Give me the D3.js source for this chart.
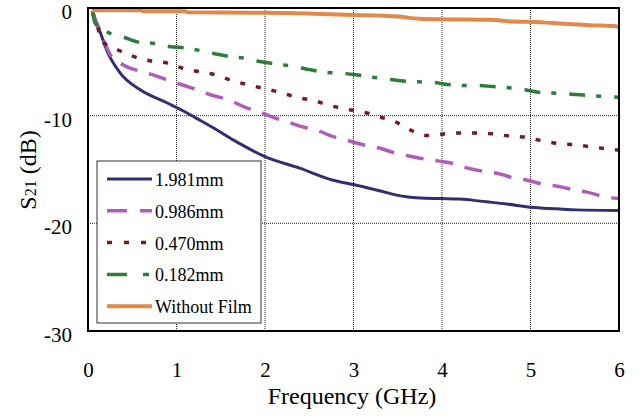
<!DOCTYPE html>
<html>
<head>
<meta charset="utf-8">
<script src="https://cdn.jsdelivr.net/npm/d3@7"></script>
<style>
  body { margin: 0; background: #fff; }
  svg { display: block; }
  svg text { font-family: "Liberation Serif", "DejaVu Serif", serif; fill: #000; }
</style>
</head>
<body>
<svg width="640" height="417"></svg>
<script>
// series: [GHz, dB]
const s1981 = [[0.05,-0.4],[0.14,-2.3],[0.21,-3.9],[0.36,-6.0],[0.59,-7.6],[0.89,-8.8],[1.12,-9.75],[1.27,-10.45],
  [1.41,-11.1],[1.64,-12.25],[2.0,-13.8],[2.4,-14.9],[2.77,-16.0],[3.0,-16.4],[3.33,-17.05],[3.53,-17.45],
  [3.75,-17.65],[4.0,-17.7],[4.2,-17.75],[4.5,-18.0],[4.73,-18.2],[5.0,-18.5],[5.3,-18.65],[5.52,-18.75],[6.0,-18.8]];
const s0986 = [[0.05,-0.4],[0.14,-2.2],[0.25,-4.3],[0.4,-5.3],[0.6,-5.9],[0.77,-6.3],[0.9,-6.7],[1.07,-7.15],
  [1.23,-7.6],[1.44,-8.2],[1.58,-8.5],[1.77,-9.2],[1.92,-9.6],[2.11,-10.2],[2.26,-10.6],[2.45,-11.1],[2.6,-11.4],
  [2.79,-12.0],[2.93,-12.3],[3.13,-12.75],[3.27,-12.95],[3.46,-13.45],[3.6,-13.7],[3.78,-14.0],[3.95,-14.2],
  [4.15,-14.5],[4.28,-14.85],[4.49,-15.2],[4.62,-15.35],[4.82,-15.8],[4.96,-16.0],[5.16,-16.4],[5.3,-16.55],
  [5.5,-16.9],[5.64,-17.1],[5.84,-17.55],[6.0,-17.7]];
const s0470 = [[0.05,-0.4],[0.1,-1.5],[0.16,-3.1],[0.34,-3.9],[0.51,-4.5],[0.7,-4.9],[0.89,-5.1],[1.07,-5.6],
  [1.25,-5.9],[1.44,-6.2],[1.63,-6.75],[1.82,-7.15],[2.0,-7.5],[2.18,-7.85],[2.36,-8.3],[2.55,-8.6],[2.73,-9.05],
  [2.92,-9.4],[3.1,-9.65],[3.29,-10.1],[3.48,-10.6],[3.66,-11.4],[3.84,-11.85],[4.02,-11.7],[4.21,-11.6],
  [4.4,-11.6],[4.58,-11.7],[4.77,-11.9],[4.95,-12.0],[5.14,-12.35],[5.32,-12.6],[5.5,-12.7],[5.69,-12.9],
  [5.88,-13.1],[6.0,-13.2]];
const s0182 = [[0.05,-0.3],[0.08,-1.4],[0.21,-2.2],[0.4,-2.7],[0.59,-3.2],[0.76,-3.3],[0.93,-3.6],[1.1,-3.7],
  [1.29,-4.0],[1.46,-4.3],[1.6,-4.5],[1.8,-4.7],[1.96,-5.0],[2.13,-5.2],[2.34,-5.45],[2.49,-5.7],[2.66,-5.95],
  [2.85,-6.05],[3.02,-6.2],[3.19,-6.4],[3.38,-6.6],[3.53,-6.75],[3.71,-6.85],[3.9,-6.9],[4.06,-7.1],[4.23,-7.2],
  [4.43,-7.2],[4.57,-7.3],[4.75,-7.4],[4.94,-7.6],[5.07,-7.8],[5.25,-7.9],[5.47,-8.0],[5.62,-8.1],[5.79,-8.2],[6.0,-8.3]];
const sNoFilm = [[0.04,-0.2],[0.6,-0.2],[0.62,-0.3],[1.1,-0.3],[1.12,-0.4],[2.0,-0.45],[3.0,-0.65],[3.5,-0.8],
  [3.75,-1.0],[4.0,-1.05],[4.54,-1.1],[4.8,-1.25],[5.07,-1.3],[5.25,-1.4],[5.47,-1.5],[5.67,-1.6],[5.97,-1.7],[6.0,-1.8]];

const seriesNames = ["1.981mm", "0.986mm", "0.470mm", "0.182mm", "Without Film"];
const seriesData = [s1981, s0986, s0470, s0182, sNoFilm];
const colors = ["#2E3171", "#B05CB8", "#7A1A1C", "#2F7D3B", "#E0894A"];
const dashes = [null, "18,12", "5,11", "16,11,5,13", null];
const legendDashes = [null, "20,13", "5,12", "20,16,6,20", null];
const widths = [3, 3.5, 3.5, 3.5, 4];

const xTicks = [0, 1, 2, 3, 4, 5, 6];
const yTicks = [0, -10, -20, -30];

const svg = d3.select("svg");
const mLeft = 88, mRight = 619, mTop = 8, mBottom = 331;

const x = d3.scaleLinear().domain([0, 6]).range([mLeft, mRight]);
const y = d3.scaleLinear().domain([0, -30]).range([mTop, mBottom]);

// grid
svg.append("g").selectAll("line")
  .data([1, 2, 3, 4, 5])
  .enter().append("line")
  .attr("x1", d => x(d)).attr("x2", d => x(d))
  .attr("y1", mTop).attr("y2", mBottom)
  .attr("stroke", "#222").attr("stroke-width", 1).attr("stroke-dasharray", "1,1");
svg.append("g").selectAll("line")
  .data([-10, -20])
  .enter().append("line")
  .attr("x1", mLeft).attr("x2", mRight)
  .attr("y1", d => y(d)).attr("y2", d => y(d))
  .attr("stroke", "#222").attr("stroke-width", 1).attr("stroke-dasharray", "1,1");

// curves
const line = d3.line().x(d => x(d[0])).y(d => y(d[1])).curve(d3.curveMonotoneX);
seriesData.forEach((s, i) => {
  svg.append("path")
    .datum(s)
    .attr("fill", "none")
    .attr("stroke", colors[i])
    .attr("stroke-width", widths[i])
    .attr("stroke-dasharray", dashes[i])
    .attr("d", line);
});

// frame
svg.append("rect")
  .attr("x", mLeft).attr("y", mTop)
  .attr("width", mRight - mLeft).attr("height", mBottom - mTop)
  .attr("fill", "none").attr("stroke", "#000").attr("stroke-width", 2);

// axes (plain hyphen minus like the original)
const xAxis = svg.append("g")
  .attr("transform", `translate(0,${mBottom})`)
  .call(d3.axisBottom(x).tickValues(xTicks).tickSize(0).tickPadding(31).tickFormat(d => String(d)));
const yAxis = svg.append("g")
  .attr("transform", `translate(${mLeft},0)`)
  .call(d3.axisLeft(y).tickValues(yTicks).tickSize(0).tickPadding(16).tickFormat(d => String(d)));
[xAxis, yAxis].forEach(g => {
  g.attr("font-family", null).attr("font-size", null);
  g.select(".domain").remove();
  g.selectAll("text").style("font-size", "21px");
});
yAxis.selectAll("text").attr("dy", "0.5em");

// axis titles
svg.append("text")
  .attr("x", 352).attr("y", 404)
  .attr("text-anchor", "middle")
  .style("font-size", "24px")
  .text("Frequency (GHz)");

const yt = svg.append("text")
  .attr("transform", "translate(36,170) rotate(-90)")
  .attr("text-anchor", "middle")
  .style("font-size", "24px");
yt.append("tspan").text("S");
yt.append("tspan").style("font-size", "16px").text("21");
yt.append("tspan").text(" (dB)");

// legend
const lg = svg.append("g");
lg.append("rect")
  .attr("x", 97).attr("y", 161).attr("width", 164).attr("height", 162)
  .attr("fill", "#fff").attr("stroke", "#333").attr("stroke-width", 1);
const rows = lg.selectAll("g.row")
  .data(seriesNames)
  .enter().append("g")
  .attr("class", "row")
  .attr("transform", (d, i) => `translate(0,${179 + i * 31.8})`);
rows.append("line")
  .attr("x1", 107).attr("x2", 152)
  .attr("stroke", (d, i) => colors[i])
  .attr("stroke-width", (d, i) => widths[i])
  .attr("stroke-dasharray", (d, i) => legendDashes[i]);
rows.append("text")
  .attr("x", 155).attr("y", 7)
  .style("font-size", "18px")
  .text(d => d);
</script>
</body>
</html>
